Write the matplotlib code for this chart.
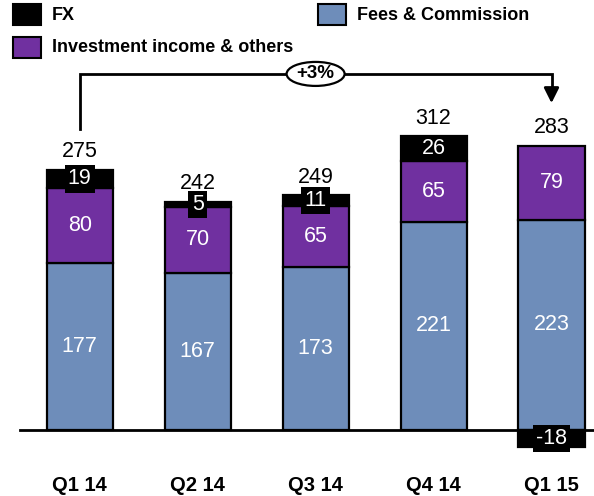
import matplotlib
matplotlib.use("Agg")
import matplotlib.pyplot as plt
from matplotlib.patches import Rectangle, Ellipse
import numpy as np

plt.rcParams['font.family'] = ['Liberation Sans', 'DejaVu Sans']

categories = ['Q1 14', 'Q2 14', 'Q3 14', 'Q4 14', 'Q1 15']
fees = [177, 167, 173, 221, 223]
investment = [80, 70, 65, 65, 79]
fx = [19, 5, 11, 26, -18]
totals = [275, 242, 249, 312, 283]
growth_label = '+3%'

c_fees = '#6E8DBA'
c_inv = '#7030A0'
c_fx = '#000000'

W, H = 594, 496
fig = plt.figure(figsize=(W / 100, H / 100), dpi=100)
ax = fig.add_axes([0, 0, 1, 1])
ax.set_axis_off()

# pixel mapping
x0_px, dx_px = 79.7, 117.95
y0_px, sy = 430.0, 0.942
ax.set_xlim(-x0_px / dx_px, (W - x0_px) / dx_px)
ax.set_ylim(-(H - y0_px) / sy, y0_px / sy)

x = np.arange(len(categories))
fees_a = np.array(fees)
inv_a = np.array(investment)
fx_a = np.array(fx)
bw = 0.56
lw = 1.6

ax.bar(x, fees_a, bw, color=c_fees, edgecolor='black', linewidth=lw, zorder=2)
ax.bar(x, inv_a, bw, bottom=fees_a, color=c_inv, edgecolor='black', linewidth=lw, zorder=2)
fx_bottom = np.where(fx_a >= 0, fees_a + inv_a, 0)
ax.bar(x, fx_a, bw, bottom=fx_bottom, color=c_fx, edgecolor='black', linewidth=lw, zorder=2)

ax.axhline(0, xmin=20 / W, xmax=1, color='black', linewidth=2, zorder=3)

fs_num = 15.5
for i in range(len(categories)):
    ax.text(x[i], fees_a[i] / 2, str(fees[i]), color='white', ha='center', va='center',
            fontsize=fs_num, zorder=4)
    ax.text(x[i], fees_a[i] + inv_a[i] / 2, str(investment[i]), color='white', ha='center',
            va='center', fontsize=fs_num, zorder=4)
    ax.text(x[i], fx_bottom[i] + fx_a[i] / 2, str(fx[i]), color='white', ha='center',
            va='center', fontsize=fs_num, zorder=5,
            bbox=dict(boxstyle='square,pad=0.15', fc='black', ec='none'))
    top = fees_a[i] + inv_a[i] + max(fx_a[i], 0)
    ax.annotate(str(totals[i]), (x[i], top), xytext=(0, 13), textcoords='offset points',
                ha='center', va='center', fontsize=fs_num, color='black')
    ax.text(x[i], -58.5, categories[i], ha='center', va='center', fontsize=14.5,
            fontweight='bold')

# growth bracket
tops = fees_a + inv_a + np.maximum(fx_a, 0)
bracket_y = tops.max() + 66
start_y = tops[0] + 44
end_y = tops[-1] + 45
ax.plot([x[0], x[0], x[-1], x[-1]], [start_y, bracket_y, bracket_y, end_y + 14],
        color='black', linewidth=2, solid_joinstyle='miter', zorder=3)
ax.annotate('', xy=(x[-1], end_y), xytext=(x[-1], end_y + 16),
            arrowprops=dict(arrowstyle='-|>,head_length=0.9,head_width=0.45',
                            color='black', lw=2, shrinkA=0, shrinkB=0))
mid = (x[0] + x[-1]) / 2
ell = Ellipse((mid, bracket_y), width=58 / dx_px, height=24 / sy, facecolor='white',
              edgecolor='black', linewidth=1.6, zorder=4)
ax.add_patch(ell)
ax.text(mid, bracket_y, growth_label, ha='center', va='center', fontsize=13.5,
        fontweight='bold', zorder=5)

# legend (manual)
def legend_item(px, py, color, label):
    fig.add_artist(Rectangle((px / W, 1 - (py + 21) / H), 28 / W, 21 / H,
                             facecolor=color, edgecolor='black', linewidth=1.5,
                             transform=fig.transFigure))
    fig.text((px + 39) / W, 1 - (py + 11) / H, label, ha='left', va='center',
             fontsize=13, fontweight='bold')

legend_item(13, 4, c_fx, 'FX')
legend_item(318, 4, c_fees, 'Fees & Commission')
legend_item(13, 37, c_inv, 'Investment income & others')

fig.savefig('out.png', dpi=100)
